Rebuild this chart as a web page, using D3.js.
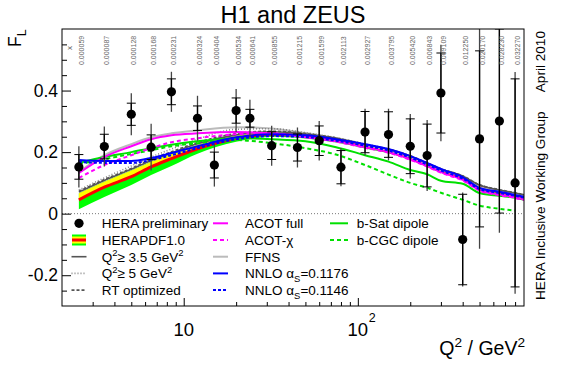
<!DOCTYPE html>
<html>
<head>
<meta charset="utf-8">
<script src="https://cdn.jsdelivr.net/npm/d3@7"></script>
<style>
  body { margin: 0; background: #fff; }
  text { font-family: "Liberation Sans", Arial, Helvetica, sans-serif; }
</style>
</head>
<body>
<div id="chart"></div>
<script>
const q2Points = [2.5, 3.5, 5, 6.5, 8.5, 12, 15, 20, 24, 32, 45, 60, 80, 110, 150, 200, 250, 300, 400, 500, 650, 800];
const flValues = [0.152, 0.218, 0.323, 0.216, 0.396, 0.31, 0.158, 0.335, 0.31, 0.221, 0.215, 0.237, 0.151, 0.265, 0.257, 0.219, 0.189, 0.392, -0.084, 0.243, 0.301, 0.10];
const statErr = [0.040, 0.040, 0.036, 0.040, 0.042, 0.040, 0.042, 0.041, 0.029, 0.045, 0.044, 0.048, 0.054, 0.067, 0.074, 0.089, 0.102, 0.13, 0.147, 0.286, 0.299, 0.338];
const totErr = [0.067, 0.065, 0.068, 0.076, 0.065, 0.073, 0.07, 0.07, 0.06, 0.065, 0.065, 0.064, 0.062, 0.076, 0.084, 0.105, 0.115, 0.157, 0.153, 0.357, 0.363, 0.36];
const xLabels = ["0.000059", "0.000087", "0.000128", "0.000168", "0.000231", "0.000324", "0.000404", "0.000534", "0.000641", "0.000855", "0.001215",
  "0.001599", "0.002113", "0.002927", "0.003795", "0.005420", "0.006843", "0.009109", "0.012250", "0.020170", "0.028230", "0.032270"];

// theory predictions, evaluated at these Q2 nodes
const curveQ2 = [2.5, 3.5, 5, 6.5, 8.5, 12, 20, 32, 50, 75, 110, 150, 200, 250, 300, 400, 500, 650, 800, 900];
const herapdfCentral = [0.045, 0.086, 0.120, 0.152, 0.179, 0.211, 0.244, 0.258, 0.252, 0.239, 0.219, 0.203, 0.181, 0.158, 0.139, 0.116, 0.087, 0.071, 0.061, 0.055];
const herapdfHigh = [0.066, 0.104, 0.140, 0.169, 0.193, 0.223, 0.252, 0.264, 0.258, 0.245, 0.225, 0.209, 0.187, 0.164, 0.145, 0.122, 0.093, 0.077, 0.067, 0.061];
const herapdfLow = [0.014, 0.054, 0.093, 0.126, 0.155, 0.195, 0.234, 0.250, 0.244, 0.231, 0.212, 0.196, 0.175, 0.152, 0.133, 0.110, 0.081, 0.065, 0.055, 0.049];
const q2min35 = [0.070, 0.108, 0.144, 0.173, 0.197, 0.227, 0.256, 0.266, 0.259, 0.245, 0.225, 0.209, 0.187, 0.164, 0.145, 0.122, 0.093, 0.077, 0.067, 0.061];
const q2min5 = [0.077, 0.116, 0.155, 0.184, 0.210, 0.242, 0.274, 0.276, 0.263, 0.247, 0.226, 0.210, 0.187, 0.165, 0.145, 0.123, 0.094, 0.077, 0.068, 0.061];
const rtOptimized = [0.073, 0.111, 0.147, 0.177, 0.201, 0.231, 0.260, 0.268, 0.260, 0.246, 0.226, 0.210, 0.188, 0.165, 0.146, 0.123, 0.094, 0.078, 0.068, 0.062];
const acotFull = [0.132, 0.184, 0.219, 0.242, 0.255, 0.261, 0.265, 0.261, 0.248, 0.235, 0.216, 0.200, 0.177, 0.155, 0.135, 0.110, 0.077, 0.062, 0.053, 0.046];
const acotChi = [0.116, 0.158, 0.190, 0.213, 0.232, 0.245, 0.258, 0.261, 0.250, 0.234, 0.214, 0.198, 0.175, 0.153, 0.133, 0.108, 0.075, 0.060, 0.051, 0.044];
const ffns = [0.135, 0.190, 0.226, 0.248, 0.261, 0.271, 0.281, 0.277, 0.262, 0.245, 0.223, 0.206, 0.184, 0.161, 0.142, 0.119, 0.087, 0.074, 0.065, 0.058];
const nnlo1176 = [0.174, 0.171, 0.171, 0.181, 0.197, 0.219, 0.248, 0.258, 0.255, 0.242, 0.226, 0.210, 0.187, 0.165, 0.145, 0.119, 0.084, 0.071, 0.061, 0.055];
const nnlo1146 = [0.168, 0.165, 0.165, 0.174, 0.190, 0.213, 0.242, 0.252, 0.249, 0.237, 0.221, 0.205, 0.182, 0.160, 0.140, 0.114, 0.080, 0.067, 0.058, 0.052];
const bSat = [0.165, 0.184, 0.200, 0.213, 0.224, 0.235, 0.245, 0.242, 0.235, 0.216, 0.190, 0.169, 0.142, 0.128, 0.107, 0.097, 0.067, 0.058, 0.052, 0.045];
const bCgc = [0.161, 0.177, 0.194, 0.206, 0.219, 0.229, 0.239, 0.229, 0.213, 0.192, 0.158, 0.127, 0.100, 0.084, 0.068, 0.045, 0.026, 0.016, 0.010, null];

const legendLabels = ["HERA preliminary", "HERAPDF1.0", "Q{^2}\u2265 3.5 GeV{^2}", "Q{^2}\u2265 5 GeV{^2}", "RT optimized",
  "ACOT full", "ACOT-\u03c7", "FFNS", "NNLO \u03b1{_S}=0.1176", "NNLO \u03b1{_S}=0.1146",
  "b-Sat dipole", "b-CGC dipole"];

// line styles, same order as legend entries 2..11
const lineSeries = [
  { values: q2min35, color: "#555", dash: null, w: 1.6, legend: 2 },
  { values: q2min5, color: "#888", dash: "1,2", w: 1.6, legend: 3 },
  { values: rtOptimized, color: "#555", dash: "3,2", w: 1.6, legend: 4 },
  { values: acotFull, color: "#ff00ff", dash: null, w: 2, legend: 5 },
  { values: acotChi, color: "#ff00ff", dash: "4,3", w: 2, legend: 6 },
  { values: ffns, color: "#bbbbbb", dash: null, w: 2, legend: 7 },
  { values: nnlo1176, color: "#0000ff", dash: null, w: 2, legend: 8 },
  { values: nnlo1146, color: "#0000ff", dash: "3,2", w: 2, legend: 9 },
  { values: bSat, color: "#00e000", dash: null, w: 2, legend: 10 },
  { values: bCgc, color: "#00e000", dash: "4,3", w: 2, legend: 11 }
];
const drawOrder = [5, 1, 0, 2, 9, 8, 4, 3, 7, 6];

const W = 567, H = 369;
const plotLeft = 62, plotRight = 524, plotTop = 29, plotBottom = 306;

const svg = d3.select("#chart").append("svg")
  .attr("width", W).attr("height", H);

const x = d3.scaleLog().domain([2, 900]).range([plotLeft, plotRight]);
const y = d3.scaleLinear().domain([-0.3, 0.6]).range([plotBottom, plotTop]);

svg.append("clipPath").attr("id", "plotclip")
  .append("rect").attr("x", plotLeft).attr("y", plotTop)
  .attr("width", plotRight - plotLeft).attr("height", plotBottom - plotTop);

// small helper for sub/superscripts written as {^2} or {_S}
function richText(sel, str, size) {
  const parts = str.split(/(\{[\^_][^}]*\})/).filter(s => s.length);
  let shift = 0;
  parts.forEach(p => {
    const m = p.match(/^\{([\^_])(.*)\}$/);
    if (m) {
      const d = m[1] === "^" ? -size * 0.42 : size * 0.3;
      sel.append("tspan").attr("dy", d - shift).attr("font-size", size * 0.7).text(m[2]);
      shift = d;
    } else {
      sel.append("tspan").attr("dy", -shift).attr("font-size", size).text(p);
      shift = 0;
    }
  });
}

// zero line
svg.append("line")
  .attr("x1", plotLeft).attr("x2", plotRight).attr("y1", y(0)).attr("y2", y(0))
  .attr("stroke", "#777").attr("stroke-dasharray", "1,2");

const plot = svg.append("g").attr("clip-path", "url(#plotclip)");

const bandData = curveQ2.map((q, i) => ({ q: q, lo: herapdfLow[i], hi: herapdfHigh[i], c: herapdfCentral[i] }));

plot.append("path").datum(bandData)
  .attr("fill", "#00ff00")
  .attr("d", d3.area().x(d => x(d.q)).y0(d => y(d.lo)).y1(d => y(d.hi)).curve(d3.curveMonotoneX));
plot.append("path").datum(bandData)
  .attr("fill", "#ffff00")
  .attr("d", d3.area().x(d => x(d.q)).y0(d => y(d.c)).y1(d => y(d.hi)).curve(d3.curveMonotoneX));
plot.append("path").datum(bandData)
  .attr("fill", "none").attr("stroke", "#ff0000").attr("stroke-width", 3)
  .attr("d", d3.line().x(d => x(d.q)).y(d => y(d.c)).curve(d3.curveMonotoneX));

const line = d3.line()
  .defined(d => d.v !== null)
  .x(d => x(d.q)).y(d => y(d.v))
  .curve(d3.curveMonotoneX);

drawOrder.forEach(k => {
  const s = lineSeries[k];
  plot.append("path")
    .datum(curveQ2.map((q, i) => ({ q: q, v: s.values[i] })))
    .attr("fill", "none")
    .attr("stroke", s.color)
    .attr("stroke-width", s.w)
    .attr("stroke-dasharray", s.dash)
    .attr("d", line);
});

// data points with stat (ticks) and total errors
const pts = q2Points.map((q, i) => ({ q: q, v: flValues[i], s: statErr[i], t: totErr[i] }));
const bars = plot.append("g").selectAll("g").data(pts).enter().append("g");
bars.append("line")
  .attr("x1", d => x(d.q)).attr("x2", d => x(d.q))
  .attr("y1", d => y(d.v + d.t)).attr("y2", d => y(d.v - d.t))
  .attr("stroke", "#444").attr("stroke-width", 1.3);
bars.append("line")
  .attr("x1", d => x(d.q)).attr("x2", d => x(d.q))
  .attr("y1", d => y(d.v + d.s)).attr("y2", d => y(d.v - d.s))
  .attr("stroke", "#000").attr("stroke-width", 1.3);
[1, -1].forEach(sg => {
  bars.append("line")
    .attr("x1", d => x(d.q) - 4.5).attr("x2", d => x(d.q) + 4.5)
    .attr("y1", d => y(d.v + sg * d.s)).attr("y2", d => y(d.v + sg * d.s))
    .attr("stroke", "#000").attr("stroke-width", 1);
});
bars.append("circle")
  .attr("cx", d => x(d.q)).attr("cy", d => y(d.v)).attr("r", 4.6)
  .attr("fill", "#000");

// x values printed along the top
svg.append("g").selectAll("text").data(xLabels).enter().append("text")
  .attr("transform", (d, i) => `translate(${x(q2Points[i]) + 5},65) rotate(-90)`)
  .attr("font-size", 7).attr("fill", "#666")
  .text(d => d);
svg.append("text")
  .attr("transform", "translate(72,50) rotate(-90)")
  .attr("font-size", 8).attr("fill", "#666").text("x");

// frame
svg.append("rect")
  .attr("x", plotLeft).attr("y", plotTop).attr("width", plotRight - plotLeft).attr("height", plotBottom - plotTop)
  .attr("fill", "none").attr("stroke", "#000").attr("stroke-width", 1);

// y axis
const yAxis = svg.append("g").attr("transform", `translate(${plotLeft},0)`)
  .call(d3.axisLeft(y).tickValues([-0.2, 0, 0.2, 0.4]).tickSizeInner(-9).tickSizeOuter(0).tickPadding(4)
    .tickFormat(d => String(d)));
yAxis.selectAll("text").attr("font-size", 17.5).attr("fill", "#000");
const yMinor = d3.range(-5, 12).map(i => i * 0.05).filter(v => Math.abs(v * 5 - Math.round(v * 5)) > 1e-6);
svg.append("g").attr("transform", `translate(${plotLeft},0)`)
  .call(d3.axisLeft(y).tickValues(yMinor).tickSizeInner(-5).tickSizeOuter(0).tickFormat(""));

// x axis
svg.append("g").attr("transform", `translate(0,${plotBottom})`)
  .call(d3.axisBottom(x).tickValues([10, 100]).tickSizeInner(-8).tickSizeOuter(0).tickFormat(""));
const xMinor = [3, 4, 5, 6, 7, 8, 9, 20, 30, 40, 50, 60, 70, 80, 90, 200, 300, 400, 500, 600, 700, 800];
svg.append("g").attr("transform", `translate(0,${plotBottom})`)
  .call(d3.axisBottom(x).tickValues(xMinor).tickSizeInner(-4).tickSizeOuter(0).tickFormat(""));
svg.selectAll(".domain").remove();
svg.selectAll(".tick line").attr("stroke", "#000");

svg.append("text").attr("x", x(10)).attr("y", 336).attr("text-anchor", "middle")
  .attr("font-size", 18.5).text("10");
svg.append("text").attr("x", x(100)).attr("y", 336).attr("text-anchor", "middle")
  .attr("font-size", 18.5).text("10");
svg.append("text").attr("x", x(100) + 11).attr("y", 322)
  .attr("font-size", 12.5).text("2");

// titles
svg.append("text").attr("x", 293).attr("y", 23).attr("text-anchor", "middle")
  .attr("font-size", 23.5).text("H1 and ZEUS");
richText(svg.append("text").attr("x", 525).attr("y", 355).attr("text-anchor", "end"), "Q{^2} / GeV{^2}", 19.5);
richText(svg.append("text").attr("transform", "translate(21,47) rotate(-90)"), "F{_L}", 17.5);
svg.append("text").attr("transform", "translate(545,300) rotate(-90)")
  .attr("font-size", 13.6).text("HERA Inclusive Working Group");
svg.append("text").attr("transform", "translate(545,31) rotate(-90)")
  .attr("text-anchor", "end").attr("font-size", 13.6).text("April 2010");

// legend
const colSym = [79, 220.5, 339], colText = [101.7, 245, 356.7];
const legend = svg.append("g");
legendLabels.forEach((lab, i) => {
  const col = i < 5 ? 0 : (i < 10 ? 1 : 2);
  const row = col === 0 ? i : (col === 1 ? i - 5 : i - 10);
  const cy = 223.3 + row * 16.7;
  const cx = colSym[col];
  if (i === 0) {
    legend.append("circle").attr("cx", cx).attr("cy", cy).attr("r", 4.6).attr("fill", "#000");
  } else if (i === 1) {
    legend.append("rect").attr("x", cx - 7).attr("y", cy - 5.5).attr("width", 14).attr("height", 11).attr("fill", "#00ff00");
    legend.append("rect").attr("x", cx - 7).attr("y", cy - 3.5).attr("width", 14).attr("height", 7).attr("fill", "#ffff00");
    legend.append("line").attr("x1", cx - 7).attr("x2", cx + 7).attr("y1", cy).attr("y2", cy)
      .attr("stroke", "#ff0000").attr("stroke-width", 3);
  } else {
    const s = lineSeries.find(d => d.legend === i);
    const half = col === 2 ? 9 : 7.5;
    legend.append("line").attr("x1", cx - half).attr("x2", cx + half).attr("y1", cy).attr("y2", cy)
      .attr("stroke", s.color).attr("stroke-width", s.w).attr("stroke-dasharray", s.dash);
  }
  richText(legend.append("text").attr("x", colText[col]).attr("y", cy + 5), lab, 13.5);
});
</script>
</body>
</html>
